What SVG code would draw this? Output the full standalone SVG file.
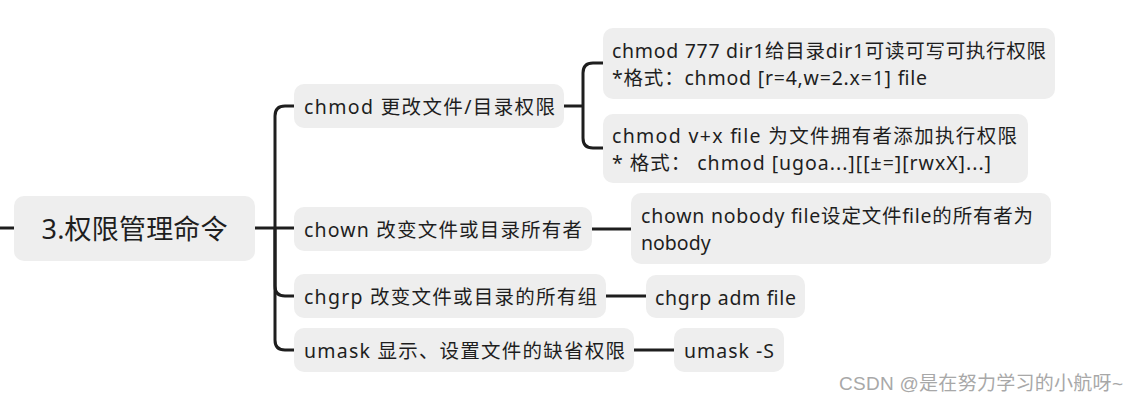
<svg xmlns="http://www.w3.org/2000/svg" width="1135" height="403" viewBox="0 0 1135 403">
<style>
.n{fill:#eeeeee}
.t{font-family:"Noto Sans","Noto Sans CJK SC",sans-serif;font-size:19.5px;fill:#1e1e1e;dominant-baseline:central}
.r{font-size:27px}
.c{fill:none;stroke:#1e1e1e;stroke-width:3;stroke-linecap:butt}
.w{font-family:"Liberation Sans","Noto Sans CJK SC",sans-serif;font-size:19px;fill:#a8a8a8;dominant-baseline:central}
</style>
<rect width="1135" height="403" fill="#ffffff"/>
<g id="connectors">
<path class="c" d="M0,228 H14"/>
<path class="c" d="M255,228 H275"/>
<path class="c" d="M275,228 V116 Q275,106 285,106 H294"/>
<path class="c" d="M275,228 H294"/>
<path class="c" d="M275,228 V286 Q275,296 285,296 H294"/>
<path class="c" d="M275,228 V340 Q275,350 285,350 H294"/>
<path class="c" d="M564,106 H583"/>
<path class="c" d="M583,106 V73 Q583,63 593,63 H603"/>
<path class="c" d="M583,106 V138 Q583,148 593,148 H603"/>
<path class="c" d="M592,229 H631"/>
<path class="c" d="M606,296 H646"/>
<path class="c" d="M634,350 H674"/>
</g>
<g id="root">
<rect class="n" x="14" y="196" width="241" height="65" rx="10"/>
<text class="t r" x="134.5" y="228" text-anchor="middle" textLength="186">3.权限管理命令</text>
</g>
<g id="chmod">
<rect class="n" x="294" y="84" width="270" height="44" rx="10"/>
<text class="t" x="304" y="106" textLength="251">chmod 更改文件/目录权限</text>
</g>
<g id="chmod-777">
<rect class="n" x="603" y="28" width="452" height="71" rx="10"/>
<text class="t" x="612" y="50" textLength="434">chmod 777 dir1给目录dir1可读可写可执行权限</text>
<text class="t" x="612" y="77" textLength="315">*格式：chmod [r=4,w=2.x=1] file</text>
</g>
<g id="chmod-ux">
<rect class="n" x="603" y="114" width="425" height="69" rx="10"/>
<text class="t" x="612" y="135" textLength="405">chmod v+x file 为文件拥有者添加执行权限</text>
<text class="t" x="612" y="162" textLength="379">* 格式： chmod  [ugoa...][[±=][rwxX]...]</text>
</g>
<g id="chown">
<rect class="n" x="294" y="207" width="298" height="44" rx="10"/>
<text class="t" x="304" y="229" textLength="278">chown 改变文件或目录所有者</text>
</g>
<g id="chown-ex">
<rect class="n" x="631" y="193" width="420" height="71" rx="10"/>
<text class="t" x="641" y="215" textLength="392">chown nobody file设定文件file的所有者为</text>
<text class="t" x="641" y="242">nobody</text>
</g>
<g id="chgrp">
<rect class="n" x="294" y="274" width="312" height="44" rx="10"/>
<text class="t" x="304" y="296" textLength="293">chgrp 改变文件或目录的所有组</text>
</g>
<g id="chgrp-ex">
<rect class="n" x="646" y="275" width="159" height="43" rx="10"/>
<text class="t" x="655" y="297" textLength="141">chgrp adm file</text>
</g>
<g id="umask">
<rect class="n" x="294" y="328" width="340" height="44" rx="10"/>
<text class="t" x="304" y="350" textLength="321">umask 显示、设置文件的缺省权限</text>
</g>
<g id="umask-ex">
<rect class="n" x="674" y="328" width="110" height="44" rx="10"/>
<text class="t" x="684" y="350" textLength="90">umask -S</text>
</g>
<text class="w" x="839" y="383" textLength="284">CSDN @是在努力学习的小航呀~</text>
</svg>
